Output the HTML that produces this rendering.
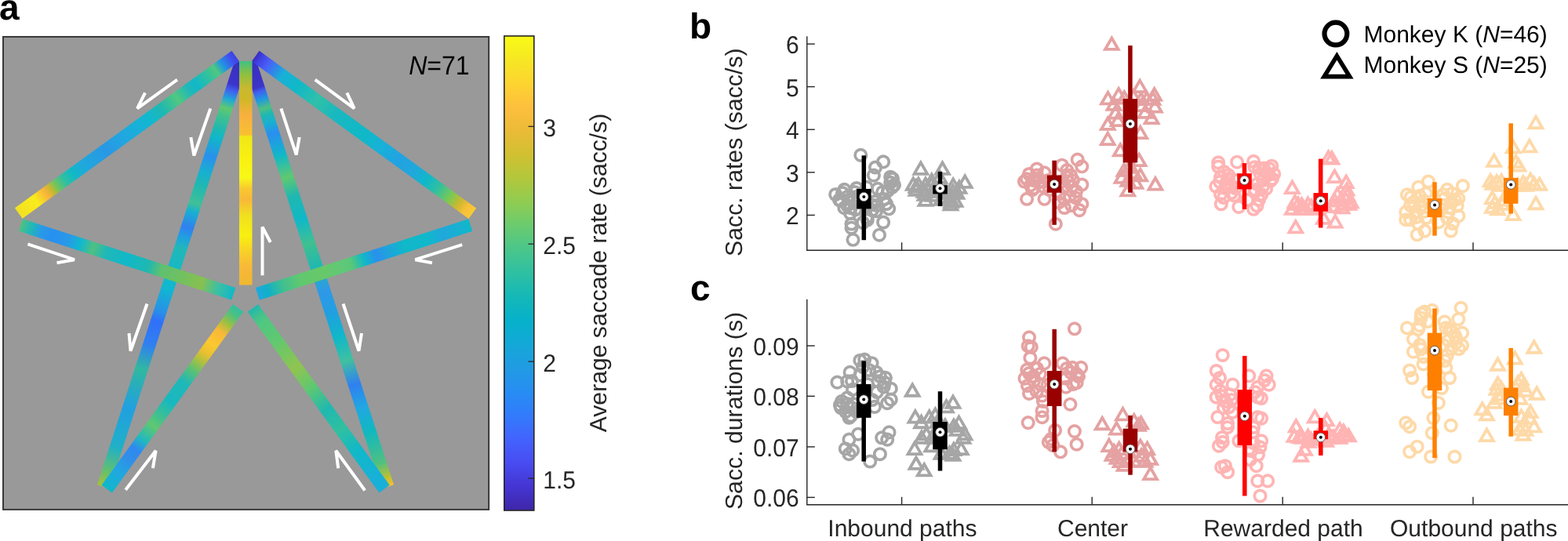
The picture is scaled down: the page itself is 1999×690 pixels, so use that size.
<!DOCTYPE html><html><head><meta charset="utf-8"><title>Figure</title><style>html,body{margin:0;padding:0;background:#fff;overflow:hidden}svg{display:block}</style></head><body><svg width="1999" height="690" viewBox="0 0 1999 690" font-family="'Liberation Sans', Arial, sans-serif" text-rendering="geometricPrecision"><defs><linearGradient id="gH" gradientUnits="userSpaceOnUse" x1="131.75" y1="620.85" x2="307" y2="80"><stop offset="0" stop-color="#a8c03c"/><stop offset="0.038" stop-color="#60c070"/><stop offset="0.094" stop-color="#20b0c8"/><stop offset="0.186" stop-color="#20a0e0"/><stop offset="0.278" stop-color="#30b8a0"/><stop offset="0.334" stop-color="#3080f0"/><stop offset="0.39" stop-color="#3070f8"/><stop offset="0.414" stop-color="#2890e8"/><stop offset="0.469" stop-color="#10b8d0"/><stop offset="0.562" stop-color="#20b8b8"/><stop offset="0.588" stop-color="#20a0e0"/><stop offset="0.612" stop-color="#3080f0"/><stop offset="0.649" stop-color="#18b0d0"/><stop offset="0.667" stop-color="#40c098"/><stop offset="0.71" stop-color="#20b8b0"/><stop offset="0.741" stop-color="#18b0d0"/><stop offset="0.778" stop-color="#2a90ec"/><stop offset="0.824" stop-color="#10b8c8"/><stop offset="0.844" stop-color="#20b8b0"/><stop offset="0.872" stop-color="#40c090"/><stop offset="0.893" stop-color="#60c870"/><stop offset="0.914" stop-color="#20a8d8"/><stop offset="0.934" stop-color="#4060f0"/><stop offset="0.949" stop-color="#3c34cc"/><stop offset="1" stop-color="#3a2ec0"/></linearGradient><linearGradient id="gI" gradientUnits="userSpaceOnUse" x1="494.25" y1="620.85" x2="319" y2="80"><stop offset="0" stop-color="#f8c030"/><stop offset="0.02" stop-color="#c0c030"/><stop offset="0.056" stop-color="#50c080"/><stop offset="0.13" stop-color="#10b8c0"/><stop offset="0.186" stop-color="#20a8e0"/><stop offset="0.241" stop-color="#3080f0"/><stop offset="0.297" stop-color="#40c0a0"/><stop offset="0.352" stop-color="#10b8c8"/><stop offset="0.408" stop-color="#20a0e0"/><stop offset="0.463" stop-color="#3098e8"/><stop offset="0.519" stop-color="#20b8b0"/><stop offset="0.574" stop-color="#40c090"/><stop offset="0.63" stop-color="#10b8c8"/><stop offset="0.686" stop-color="#20b8b0"/><stop offset="0.73" stop-color="#60c870"/><stop offset="0.782" stop-color="#10b8c8"/><stop offset="0.834" stop-color="#2a8ef0"/><stop offset="0.858" stop-color="#18b0d0"/><stop offset="0.879" stop-color="#20b8b0"/><stop offset="0.893" stop-color="#50c080"/><stop offset="0.914" stop-color="#2098e0"/><stop offset="0.932" stop-color="#4060f0"/><stop offset="0.942" stop-color="#3c34c8"/><stop offset="1" stop-color="#3a2ec0"/></linearGradient><linearGradient id="gA" gradientUnits="userSpaceOnUse" x1="23.75" y1="272" x2="300.25" y2="71.45"><stop offset="0" stop-color="#f2e022"/><stop offset="0.08" stop-color="#f8ec1c"/><stop offset="0.126" stop-color="#f9b43c"/><stop offset="0.15" stop-color="#c8b830"/><stop offset="0.175" stop-color="#70c460"/><stop offset="0.21" stop-color="#30c0a0"/><stop offset="0.254" stop-color="#10b8c8"/><stop offset="0.3" stop-color="#20a8dc"/><stop offset="0.4" stop-color="#2898e4"/><stop offset="0.493" stop-color="#20a8e0"/><stop offset="0.6" stop-color="#10b8d0"/><stop offset="0.663" stop-color="#20b8b0"/><stop offset="0.731" stop-color="#50c880"/><stop offset="0.785" stop-color="#20b8b8"/><stop offset="0.818" stop-color="#10b8c8"/><stop offset="0.87" stop-color="#30c0a0"/><stop offset="0.91" stop-color="#50c880"/><stop offset="0.94" stop-color="#2098e0"/><stop offset="0.98" stop-color="#4050f0"/><stop offset="1" stop-color="#4040e0"/></linearGradient><linearGradient id="gB" gradientUnits="userSpaceOnUse" x1="325.75" y1="71.45" x2="602.35" y2="272.25"><stop offset="0" stop-color="#3a2cc0"/><stop offset="0.02" stop-color="#4040e0"/><stop offset="0.055" stop-color="#4860f8"/><stop offset="0.123" stop-color="#18b0d8"/><stop offset="0.193" stop-color="#10b8c8"/><stop offset="0.284" stop-color="#30c0a8"/><stop offset="0.37" stop-color="#18b8c0"/><stop offset="0.505" stop-color="#10b8c8"/><stop offset="0.58" stop-color="#18b0d8"/><stop offset="0.66" stop-color="#22a2e2"/><stop offset="0.73" stop-color="#20a8dc"/><stop offset="0.79" stop-color="#10b8c8"/><stop offset="0.84" stop-color="#30c0a0"/><stop offset="0.9" stop-color="#80c850"/><stop offset="0.94" stop-color="#d0b830"/><stop offset="0.97" stop-color="#f8c038"/><stop offset="1" stop-color="#f8c838"/></linearGradient><linearGradient id="gE" gradientUnits="userSpaceOnUse" x1="313.25" y1="78" x2="313.25" y2="363.5"><stop offset="0" stop-color="#40c080"/><stop offset="0.06" stop-color="#90c040"/><stop offset="0.12" stop-color="#c8b830"/><stop offset="0.17" stop-color="#d0b828"/><stop offset="0.24" stop-color="#f8b040"/><stop offset="0.33" stop-color="#f8c030"/><stop offset="0.335" stop-color="#f0e818"/><stop offset="0.43" stop-color="#f8f010"/><stop offset="0.52" stop-color="#f8f818"/><stop offset="0.57" stop-color="#f8c830"/><stop offset="0.62" stop-color="#f8b838"/><stop offset="0.69" stop-color="#f0e020"/><stop offset="0.78" stop-color="#f8f010"/><stop offset="0.85" stop-color="#f8d028"/><stop offset="0.92" stop-color="#f8b838"/><stop offset="1" stop-color="#f0b830"/></linearGradient><linearGradient id="gC" gradientUnits="userSpaceOnUse" x1="26.3" y1="287" x2="297.75" y2="374.75"><stop offset="0" stop-color="#50c080"/><stop offset="0.05" stop-color="#20b8b8"/><stop offset="0.1" stop-color="#2898e8"/><stop offset="0.15" stop-color="#2890f0"/><stop offset="0.22" stop-color="#2898e8"/><stop offset="0.28" stop-color="#10b8d0"/><stop offset="0.34" stop-color="#50c080"/><stop offset="0.4" stop-color="#20b8b8"/><stop offset="0.5" stop-color="#10b8c8"/><stop offset="0.6" stop-color="#20b8b0"/><stop offset="0.66" stop-color="#60c070"/><stop offset="0.75" stop-color="#70c060"/><stop offset="0.85" stop-color="#88c050"/><stop offset="0.92" stop-color="#40c0a0"/><stop offset="1" stop-color="#10b8c8"/></linearGradient><linearGradient id="gD" gradientUnits="userSpaceOnUse" x1="328.2" y1="374.95" x2="599.8" y2="287"><stop offset="0" stop-color="#20a8e0"/><stop offset="0.05" stop-color="#10b0c8"/><stop offset="0.12" stop-color="#40c090"/><stop offset="0.2" stop-color="#60c870"/><stop offset="0.3" stop-color="#68c868"/><stop offset="0.4" stop-color="#60c878"/><stop offset="0.44" stop-color="#58c878"/><stop offset="0.5" stop-color="#10b8c8"/><stop offset="0.557" stop-color="#2a90ec"/><stop offset="0.6" stop-color="#20a0e0"/><stop offset="0.69" stop-color="#10b8c8"/><stop offset="0.8" stop-color="#10b8cc"/><stop offset="0.87" stop-color="#20a8dc"/><stop offset="1" stop-color="#10b8c8"/></linearGradient><linearGradient id="gF" gradientUnits="userSpaceOnUse" x1="303.6" y1="392.8" x2="136.25" y2="623.55"><stop offset="0" stop-color="#30c0a0"/><stop offset="0.04" stop-color="#50c080"/><stop offset="0.087" stop-color="#a0c040"/><stop offset="0.132" stop-color="#f8b838"/><stop offset="0.2" stop-color="#fbc830"/><stop offset="0.25" stop-color="#e8c030"/><stop offset="0.29" stop-color="#b0c040"/><stop offset="0.34" stop-color="#60c070"/><stop offset="0.41" stop-color="#20b8b8"/><stop offset="0.52" stop-color="#18b8c0"/><stop offset="0.6" stop-color="#40c090"/><stop offset="0.65" stop-color="#60c870"/><stop offset="0.73" stop-color="#20b8c0"/><stop offset="0.78" stop-color="#3088f0"/><stop offset="0.84" stop-color="#3090e8"/><stop offset="0.91" stop-color="#20a8e0"/><stop offset="1" stop-color="#10b8c8"/></linearGradient><linearGradient id="gG" gradientUnits="userSpaceOnUse" x1="322.4" y1="392.8" x2="490.05" y2="623.55"><stop offset="0" stop-color="#20b8b0"/><stop offset="0.04" stop-color="#40c090"/><stop offset="0.078" stop-color="#50c880"/><stop offset="0.18" stop-color="#60c870"/><stop offset="0.33" stop-color="#90c450"/><stop offset="0.44" stop-color="#60c870"/><stop offset="0.56" stop-color="#20b8b0"/><stop offset="0.67" stop-color="#30c0a0"/><stop offset="0.79" stop-color="#10b8c8"/><stop offset="0.94" stop-color="#18b0d8"/><stop offset="1" stop-color="#18b0d8"/></linearGradient><linearGradient id="cbar" x1="0" y1="0" x2="0" y2="1"><stop offset="0.000" stop-color="#f9fb15"/><stop offset="0.050" stop-color="#f6e724"/><stop offset="0.100" stop-color="#fdd430"/><stop offset="0.150" stop-color="#febf3d"/><stop offset="0.200" stop-color="#eabb37"/><stop offset="0.250" stop-color="#d1c031"/><stop offset="0.300" stop-color="#b2c73c"/><stop offset="0.350" stop-color="#90cc52"/><stop offset="0.400" stop-color="#6acb6f"/><stop offset="0.450" stop-color="#4ac68b"/><stop offset="0.500" stop-color="#2ec0a3"/><stop offset="0.550" stop-color="#14b8b8"/><stop offset="0.600" stop-color="#06b1ca"/><stop offset="0.650" stop-color="#14a8d8"/><stop offset="0.700" stop-color="#219be3"/><stop offset="0.750" stop-color="#278df3"/><stop offset="0.800" stop-color="#327bfc"/><stop offset="0.850" stop-color="#4363fd"/><stop offset="0.900" stop-color="#484cf1"/><stop offset="0.950" stop-color="#4535d2"/><stop offset="1.000" stop-color="#3e26a8"/></linearGradient></defs><rect width="1999" height="690" fill="#fff"/><rect x="4" y="46.9" width="619.2" height="603" fill="#999999" stroke="#333333" stroke-width="1.9"/><polygon points="139.60,623.39 314.85,82.54 299.15,77.46 123.90,618.31" fill="url(#gH)"/><polygon points="502.10,618.31 326.85,77.46 311.15,82.54 486.40,623.39" fill="url(#gI)"/><polygon points="28.59,278.68 305.09,78.13 295.41,64.77 18.91,265.32" fill="url(#gA)"/><polygon points="320.90,78.13 597.50,278.93 607.20,265.57 330.60,64.77" fill="url(#gB)"/><polygon points="305.00,78.00 305.00,363.50 321.50,363.50 321.50,78.00" fill="url(#gE)"/><polygon points="23.76,294.85 295.21,382.60 300.29,366.90 28.84,279.15" fill="url(#gC)"/><polygon points="330.74,382.80 602.34,294.85 597.26,279.15 325.66,367.10" fill="url(#gD)"/><polygon points="296.92,387.96 129.57,618.71 142.93,628.39 310.28,397.64" fill="url(#gF)"/><polygon points="315.73,397.65 483.38,628.40 496.72,618.70 329.07,387.95" fill="url(#gG)"/><polyline points="226,101.7 175,138.3 185,118.3" fill="none" stroke="#ffffff" stroke-width="4" stroke-linejoin="bevel"/><polyline points="268.3,138.3 247.3,198.3 243.3,175" fill="none" stroke="#ffffff" stroke-width="4" stroke-linejoin="bevel"/><polyline points="401.7,101.7 451.7,138.3 442.3,118.3" fill="none" stroke="#ffffff" stroke-width="4" stroke-linejoin="bevel"/><polyline points="358.3,138.3 377.7,197.3 381.7,175" fill="none" stroke="#ffffff" stroke-width="4" stroke-linejoin="bevel"/><polyline points="334.5,351.3 334.5,289.5 344.8,309" fill="none" stroke="#ffffff" stroke-width="4" stroke-linejoin="bevel"/><polyline points="589.2,312.1 529.4,331.2 550.9,335.2" fill="none" stroke="#ffffff" stroke-width="4" stroke-linejoin="bevel"/><polyline points="35.4,311.3 94.9,331.2 72.5,335.2" fill="none" stroke="#ffffff" stroke-width="4" stroke-linejoin="bevel"/><polyline points="187.5,387.5 166.5,447.5 164.5,425" fill="none" stroke="#ffffff" stroke-width="4" stroke-linejoin="bevel"/><polyline points="437.5,387.5 457.5,447.5 461,425" fill="none" stroke="#ffffff" stroke-width="4" stroke-linejoin="bevel"/><polyline points="160.1,624.8 198.6,574.8 194.9,597.2" fill="none" stroke="#ffffff" stroke-width="4" stroke-linejoin="bevel"/><polyline points="465.2,625.5 428.3,574.8 431.2,597.2" fill="none" stroke="#ffffff" stroke-width="4" stroke-linejoin="bevel"/><text transform="translate(521.2,94.6) scale(1,1.06)" font-size="32" fill="#000"><tspan font-style="italic">N</tspan>=71</text><rect x="642.8" y="45.9" width="38" height="605.1" fill="url(#cbar)" stroke="#262626" stroke-width="1.6"/><line x1="673.5" y1="161.3" x2="680.8" y2="161.3" stroke="#262626" stroke-width="1.3"/><text transform="translate(692.3,173.90) scale(1,1.05)" font-size="30" fill="#262626">3</text><line x1="673.5" y1="311.2" x2="680.8" y2="311.2" stroke="#262626" stroke-width="1.3"/><text transform="translate(692.3,323.80) scale(1,1.05)" font-size="30" fill="#262626">2.5</text><line x1="673.5" y1="461.1" x2="680.8" y2="461.1" stroke="#262626" stroke-width="1.3"/><text transform="translate(692.3,473.70) scale(1,1.05)" font-size="30" fill="#262626">2</text><line x1="673.5" y1="610.1" x2="680.8" y2="610.1" stroke="#262626" stroke-width="1.3"/><text transform="translate(692.3,622.70) scale(1,1.05)" font-size="30" fill="#262626">1.5</text><text transform="translate(772.8,348) rotate(-90)" text-anchor="middle" font-size="30.15" fill="#262626">Average saccade rate (sacc/s)</text><text x="-1" y="24.5" font-size="46" font-weight="bold" fill="#000">a</text><text x="879" y="49.4" font-size="46" font-weight="bold" fill="#000">b</text><text x="880" y="383.2" font-size="46" font-weight="bold" fill="#000">c</text><line x1="1028.8" y1="46.2" x2="1028.8" y2="319.2" stroke="#262626" stroke-width="1.4"/><line x1="1028.1" y1="319.2" x2="1999" y2="319.2" stroke="#262626" stroke-width="1.4"/><line x1="1028.8" y1="274.4" x2="1038.8" y2="274.4" stroke="#262626" stroke-width="1.4"/><text transform="translate(1018.60,286.40) scale(1,1.05)" text-anchor="end" font-size="30" fill="#262626">2</text><line x1="1028.8" y1="219.8" x2="1038.8" y2="219.8" stroke="#262626" stroke-width="1.4"/><text transform="translate(1018.60,231.80) scale(1,1.05)" text-anchor="end" font-size="30" fill="#262626">3</text><line x1="1028.8" y1="165.2" x2="1038.8" y2="165.2" stroke="#262626" stroke-width="1.4"/><text transform="translate(1018.60,177.20) scale(1,1.05)" text-anchor="end" font-size="30" fill="#262626">4</text><line x1="1028.8" y1="110.6" x2="1038.8" y2="110.6" stroke="#262626" stroke-width="1.4"/><text transform="translate(1018.60,122.60) scale(1,1.05)" text-anchor="end" font-size="30" fill="#262626">5</text><line x1="1028.8" y1="56.1" x2="1038.8" y2="56.1" stroke="#262626" stroke-width="1.4"/><text transform="translate(1018.60,68.10) scale(1,1.05)" text-anchor="end" font-size="30" fill="#262626">6</text><line x1="1149.6" y1="319.2" x2="1149.6" y2="309.2" stroke="#262626" stroke-width="1.4"/><line x1="1392.2" y1="319.2" x2="1392.2" y2="309.2" stroke="#262626" stroke-width="1.4"/><line x1="1635.2" y1="319.2" x2="1635.2" y2="309.2" stroke="#262626" stroke-width="1.4"/><line x1="1878" y1="319.2" x2="1878" y2="309.2" stroke="#262626" stroke-width="1.4"/><text transform="translate(946.3,194.2) rotate(-90)" text-anchor="middle" font-size="30.25" fill="#262626">Sacc. rates (sacc/s)</text><line x1="1028.8" y1="381.7" x2="1028.8" y2="643.8" stroke="#262626" stroke-width="1.4"/><line x1="1028.1" y1="643.8" x2="1999" y2="643.8" stroke="#262626" stroke-width="1.4"/><line x1="1028.8" y1="634.4" x2="1038.8" y2="634.4" stroke="#262626" stroke-width="1.4"/><text transform="translate(1018.60,646.40) scale(1,1.05)" text-anchor="end" font-size="30" fill="#262626">0.06</text><line x1="1028.8" y1="569.9" x2="1038.8" y2="569.9" stroke="#262626" stroke-width="1.4"/><text transform="translate(1018.60,581.90) scale(1,1.05)" text-anchor="end" font-size="30" fill="#262626">0.07</text><line x1="1028.8" y1="505.3" x2="1038.8" y2="505.3" stroke="#262626" stroke-width="1.4"/><text transform="translate(1018.60,517.30) scale(1,1.05)" text-anchor="end" font-size="30" fill="#262626">0.08</text><line x1="1028.8" y1="441.0" x2="1038.8" y2="441.0" stroke="#262626" stroke-width="1.4"/><text transform="translate(1018.60,453.00) scale(1,1.05)" text-anchor="end" font-size="30" fill="#262626">0.09</text><line x1="1149.6" y1="643.8" x2="1149.6" y2="633.8" stroke="#262626" stroke-width="1.4"/><line x1="1392.2" y1="643.8" x2="1392.2" y2="633.8" stroke="#262626" stroke-width="1.4"/><line x1="1635.2" y1="643.8" x2="1635.2" y2="633.8" stroke="#262626" stroke-width="1.4"/><line x1="1878" y1="643.8" x2="1878" y2="633.8" stroke="#262626" stroke-width="1.4"/><text transform="translate(946.3,524.0) rotate(-90)" text-anchor="middle" font-size="30.25" fill="#262626">Sacc. durations (s)</text><text x="1150.4" y="684.3" text-anchor="middle" font-size="30" fill="#262626">Inbound paths</text><text x="1393.0" y="684.3" text-anchor="middle" font-size="30" fill="#262626">Center</text><text x="1636.0" y="684.3" text-anchor="middle" font-size="30" fill="#262626">Rewarded path</text><text x="1878.8" y="684.3" text-anchor="middle" font-size="30" fill="#262626">Outbound paths</text><circle cx="1702.9" cy="43.05" r="14.4" fill="none" stroke="#000" stroke-width="6.2"/><polygon points="1704.4,71.4 1720.6,97.6 1688.2,97.6" fill="none" stroke="#000" stroke-width="5.6" stroke-linejoin="miter"/><text x="1738.5" y="53.9" font-size="30" fill="#000">Monkey K (<tspan font-style="italic">N</tspan>=46)</text><text x="1738.5" y="92.9" font-size="30" fill="#000">Monkey S (<tspan font-style="italic">N</tspan>=25)</text><g fill="none" stroke="#a6a6a6" stroke-width="3.7"><circle cx="1097.3" cy="197.9" r="7.2"/><circle cx="1126.1" cy="206.4" r="7.2"/><circle cx="1116" cy="213.5" r="7.2"/><circle cx="1113.9" cy="223.6" r="7.2"/><circle cx="1135.2" cy="225.7" r="7.2"/><circle cx="1135.2" cy="232.8" r="7.2"/><circle cx="1137.3" cy="238.9" r="7.2"/><circle cx="1065.2" cy="248" r="7.2"/><circle cx="1076.4" cy="241.9" r="7.2"/><circle cx="1089.6" cy="245" r="7.2"/><circle cx="1080.4" cy="251" r="7.2"/><circle cx="1104.8" cy="238.9" r="7.2"/><circle cx="1119" cy="240.9" r="7.2"/><circle cx="1125.1" cy="245" r="7.2"/><circle cx="1127.1" cy="254" r="7.2"/><circle cx="1076.4" cy="265.2" r="7.2"/><circle cx="1084.5" cy="265.2" r="7.2"/><circle cx="1090.6" cy="267.3" r="7.2"/><circle cx="1117" cy="269.3" r="7.2"/><circle cx="1133.2" cy="266.3" r="7.2"/><circle cx="1104.8" cy="277.4" r="7.2"/><circle cx="1105.8" cy="280.5" r="7.2"/><circle cx="1085.5" cy="285.5" r="7.2"/><circle cx="1085.5" cy="290.6" r="7.2"/><circle cx="1126.1" cy="283.5" r="7.2"/><circle cx="1087.5" cy="305.8" r="7.2"/><circle cx="1121" cy="299.7" r="7.2"/><circle cx="1115" cy="257.1" r="7.2"/><circle cx="1111" cy="261" r="7.2"/><circle cx="1070" cy="255" r="7.2"/><circle cx="1095" cy="258" r="7.2"/><circle cx="1130" cy="260" r="7.2"/><circle cx="1072" cy="256" r="7.2"/><circle cx="1080" cy="262" r="7.2"/><circle cx="1088" cy="256" r="7.2"/><circle cx="1094" cy="250" r="7.2"/><circle cx="1084" cy="272" r="7.2"/><circle cx="1074" cy="246" r="7.2"/><circle cx="1092" cy="240" r="7.2"/><circle cx="1138" cy="228" r="7.2"/><circle cx="1140" cy="236" r="7.2"/><circle cx="1132" cy="243" r="7.2"/><circle cx="1112" cy="268" r="7.2"/><circle cx="1118" cy="262" r="7.2"/><circle cx="1100" cy="284" r="7.2"/></g><g fill="none" stroke="#a6a6a6" stroke-width="3.8" stroke-linejoin="miter"><polygon points="1173.90,207.33 1182.27,221.84 1165.53,221.84"/><polygon points="1201.50,207.33 1209.87,221.84 1193.13,221.84"/><polygon points="1230.20,224.33 1238.57,238.84 1221.83,238.84"/><polygon points="1187.80,222.33 1196.17,236.84 1179.43,236.84"/><polygon points="1164.30,227.33 1172.67,241.84 1155.93,241.84"/><polygon points="1170.90,227.33 1179.27,241.84 1162.53,241.84"/><polygon points="1180.00,227.33 1188.37,241.84 1171.63,241.84"/><polygon points="1187.80,227.33 1196.17,241.84 1179.43,241.84"/><polygon points="1215.20,228.33 1223.57,242.84 1206.83,242.84"/><polygon points="1223.00,231.33 1231.37,245.84 1214.63,245.84"/><polygon points="1179.00,240.33 1187.37,254.84 1170.63,254.84"/><polygon points="1189.00,241.33 1197.37,255.84 1180.63,255.84"/><polygon points="1212.60,249.33 1220.97,263.83 1204.23,263.83"/><polygon points="1211.00,244.33 1219.37,258.83 1202.63,258.83"/><polygon points="1168.00,230.33 1176.37,244.84 1159.63,244.84"/><polygon points="1198.00,218.33 1206.37,232.84 1189.63,232.84"/><polygon points="1205.00,234.33 1213.37,248.84 1196.63,248.84"/><polygon points="1220.00,238.33 1228.37,252.84 1211.63,252.84"/><polygon points="1168.00,234.33 1176.37,248.84 1159.63,248.84"/><polygon points="1178.00,236.33 1186.37,250.84 1169.63,250.84"/><polygon points="1188.00,236.33 1196.37,250.84 1179.63,250.84"/><polygon points="1196.00,236.33 1204.37,250.84 1187.63,250.84"/><polygon points="1205.00,238.33 1213.37,252.84 1196.63,252.84"/><polygon points="1215.00,236.33 1223.37,250.84 1206.63,250.84"/><polygon points="1180.00,247.33 1188.37,261.83 1171.63,261.83"/><polygon points="1200.00,246.33 1208.37,260.83 1191.63,260.83"/><polygon points="1218.00,248.33 1226.37,262.83 1209.63,262.83"/><polygon points="1192.00,230.33 1200.37,244.84 1183.63,244.84"/><polygon points="1212.00,252.83 1220.37,267.33 1203.63,267.33"/></g><g fill="none" stroke="#e5a2a2" stroke-width="3.7"><circle cx="1373.7" cy="203.6" r="7.2"/><circle cx="1379.3" cy="212.3" r="7.2"/><circle cx="1353.8" cy="210.7" r="7.2"/><circle cx="1360.2" cy="217.1" r="7.2"/><circle cx="1365" cy="223.5" r="7.2"/><circle cx="1321.9" cy="215.5" r="7.2"/><circle cx="1331.5" cy="220.3" r="7.2"/><circle cx="1309.1" cy="228.3" r="7.2"/><circle cx="1317.1" cy="229.9" r="7.2"/><circle cx="1325.1" cy="231.5" r="7.2"/><circle cx="1313.9" cy="236.3" r="7.2"/><circle cx="1329.9" cy="237.8" r="7.2"/><circle cx="1379.3" cy="235.5" r="7.2"/><circle cx="1361.8" cy="231.5" r="7.2"/><circle cx="1366.6" cy="237.8" r="7.2"/><circle cx="1357" cy="239.4" r="7.2"/><circle cx="1309.1" cy="253.8" r="7.2"/><circle cx="1331.5" cy="253.8" r="7.2"/><circle cx="1357" cy="253.8" r="7.2"/><circle cx="1371.3" cy="252.2" r="7.2"/><circle cx="1379.3" cy="260.2" r="7.2"/><circle cx="1357" cy="265" r="7.2"/><circle cx="1376.1" cy="268.1" r="7.2"/><circle cx="1345.8" cy="285.7" r="7.2"/><circle cx="1321.9" cy="223.5" r="7.2"/><circle cx="1306" cy="231.5" r="7.2"/><circle cx="1350.6" cy="247.4" r="7.2"/><circle cx="1338" cy="242" r="7.2"/><circle cx="1318" cy="240" r="7.2"/><circle cx="1312" cy="222" r="7.2"/><circle cx="1322" cy="228" r="7.2"/><circle cx="1330" cy="232" r="7.2"/><circle cx="1316" cy="242" r="7.2"/><circle cx="1336" cy="230" r="7.2"/><circle cx="1360" cy="226" r="7.2"/><circle cx="1368" cy="230" r="7.2"/><circle cx="1372" cy="244" r="7.2"/><circle cx="1364" cy="250" r="7.2"/><circle cx="1352" cy="232" r="7.2"/><circle cx="1366" cy="262" r="7.2"/><circle cx="1350" cy="258" r="7.2"/></g><g fill="none" stroke="#e5a2a2" stroke-width="3.8" stroke-linejoin="miter"><polygon points="1417.30,48.43 1425.67,62.94 1408.93,62.94"/><polygon points="1453.20,102.63 1461.57,117.13 1444.83,117.13"/><polygon points="1426.10,113.03 1434.47,127.53 1417.73,127.53"/><polygon points="1412.50,117.83 1420.87,132.34 1404.13,132.34"/><polygon points="1433.30,117.03 1441.67,131.53 1424.93,131.53"/><polygon points="1471.60,113.03 1479.97,127.53 1463.23,127.53"/><polygon points="1454.80,118.63 1463.17,133.14 1446.43,133.14"/><polygon points="1472.40,128.13 1480.77,142.64 1464.03,142.64"/><polygon points="1422.10,136.13 1430.47,150.64 1413.73,150.64"/><polygon points="1455.60,126.53 1463.97,141.03 1447.23,141.03"/><polygon points="1412.30,150.43 1420.67,164.94 1403.93,164.94"/><polygon points="1468.10,142.53 1476.47,157.03 1459.73,157.03"/><polygon points="1453.80,161.63 1462.17,176.14 1445.43,176.14"/><polygon points="1412.30,169.63 1420.67,184.14 1403.93,184.14"/><polygon points="1425.10,145.63 1433.47,160.14 1416.73,160.14"/><polygon points="1428.30,183.93 1436.67,198.44 1419.93,198.44"/><polygon points="1452.20,196.63 1460.57,211.14 1443.83,211.14"/><polygon points="1433.00,209.43 1441.37,223.94 1424.63,223.94"/><polygon points="1445.80,212.63 1454.17,227.14 1437.43,227.14"/><polygon points="1453.80,215.83 1462.17,230.34 1445.43,230.34"/><polygon points="1437.80,222.23 1446.17,236.74 1429.43,236.74"/><polygon points="1472.90,227.03 1481.27,241.53 1464.53,241.53"/><polygon points="1437.80,234.93 1446.17,249.44 1429.43,249.44"/><polygon points="1462.00,118.33 1470.37,132.84 1453.63,132.84"/><polygon points="1445.00,115.33 1453.37,129.84 1436.63,129.84"/><polygon points="1420.00,125.33 1428.37,139.84 1411.63,139.84"/><polygon points="1460.00,135.33 1468.37,149.84 1451.63,149.84"/><polygon points="1470.00,118.33 1478.37,132.84 1461.63,132.84"/><polygon points="1440.00,205.33 1448.37,219.84 1431.63,219.84"/><polygon points="1430.00,218.33 1438.37,232.84 1421.63,232.84"/><polygon points="1448.00,225.33 1456.37,239.84 1439.63,239.84"/></g><g fill="none" stroke="#ffb4b4" stroke-width="3.7"><circle cx="1553.2" cy="207.4" r="7.2"/><circle cx="1553.2" cy="212.5" r="7.2"/><circle cx="1577.1" cy="206.7" r="7.2"/><circle cx="1598.1" cy="205.9" r="7.2"/><circle cx="1599.6" cy="213.2" r="7.2"/><circle cx="1611.2" cy="214.6" r="7.2"/><circle cx="1621.3" cy="211.7" r="7.2"/><circle cx="1624.2" cy="221.9" r="7.2"/><circle cx="1617" cy="223.3" r="7.2"/><circle cx="1606.8" cy="221.9" r="7.2"/><circle cx="1556.1" cy="226.2" r="7.2"/><circle cx="1566.2" cy="223.3" r="7.2"/><circle cx="1563.3" cy="233.5" r="7.2"/><circle cx="1550.3" cy="237.8" r="7.2"/><circle cx="1556.1" cy="248" r="7.2"/><circle cx="1573.5" cy="249.4" r="7.2"/><circle cx="1570.6" cy="237.8" r="7.2"/><circle cx="1602.5" cy="234.9" r="7.2"/><circle cx="1614.1" cy="240.7" r="7.2"/><circle cx="1608.3" cy="248" r="7.2"/><circle cx="1599.6" cy="245.1" r="7.2"/><circle cx="1556.8" cy="260.3" r="7.2"/><circle cx="1579.3" cy="263.9" r="7.2"/><circle cx="1598.1" cy="266.8" r="7.2"/><circle cx="1602.5" cy="262.5" r="7.2"/><circle cx="1560.4" cy="219" r="7.2"/><circle cx="1619.9" cy="230.6" r="7.2"/><circle cx="1610" cy="230" r="7.2"/><circle cx="1575" cy="230" r="7.2"/><circle cx="1605" cy="215" r="7.2"/><circle cx="1615" cy="222" r="7.2"/><circle cx="1622" cy="228" r="7.2"/><circle cx="1610" cy="238" r="7.2"/><circle cx="1600" cy="242" r="7.2"/><circle cx="1618" cy="215" r="7.2"/><circle cx="1555" cy="232" r="7.2"/><circle cx="1562" cy="240" r="7.2"/><circle cx="1570" cy="246" r="7.2"/><circle cx="1560" cy="252" r="7.2"/><circle cx="1566" cy="228" r="7.2"/><circle cx="1575" cy="240" r="7.2"/><circle cx="1605" cy="255" r="7.2"/><circle cx="1590" cy="255" r="7.2"/></g><g fill="none" stroke="#ffb4b4" stroke-width="3.8" stroke-linejoin="miter"><polygon points="1693.50,193.23 1701.87,207.74 1685.13,207.74"/><polygon points="1697.90,194.03 1706.27,208.53 1689.53,208.53"/><polygon points="1701.40,217.53 1709.77,232.03 1693.03,232.03"/><polygon points="1716.20,224.53 1724.57,239.03 1707.83,239.03"/><polygon points="1647.40,231.53 1655.77,246.03 1639.03,246.03"/><polygon points="1717.00,234.13 1725.37,248.64 1708.63,248.64"/><polygon points="1717.90,241.03 1726.27,255.53 1709.53,255.53"/><polygon points="1701.40,248.03 1709.77,262.53 1693.03,262.53"/><polygon points="1710.00,246.33 1718.37,260.83 1701.63,260.83"/><polygon points="1650.90,249.73 1659.27,264.23 1642.53,264.23"/><polygon points="1659.60,253.23 1667.97,267.73 1651.23,267.73"/><polygon points="1667.40,252.43 1675.77,266.94 1659.03,266.94"/><polygon points="1647.40,258.43 1655.77,272.94 1639.03,272.94"/><polygon points="1722.30,249.73 1730.67,264.23 1713.93,264.23"/><polygon points="1711.00,256.73 1719.37,271.23 1702.63,271.23"/><polygon points="1702.20,275.03 1710.57,289.53 1693.83,289.53"/><polygon points="1651.80,281.93 1660.17,296.44 1643.43,296.44"/><polygon points="1657.90,258.43 1666.27,272.94 1649.53,272.94"/><polygon points="1687.40,270.33 1695.77,284.83 1679.03,284.83"/><polygon points="1705.00,240.33 1713.37,254.84 1696.63,254.84"/><polygon points="1715.00,245.33 1723.37,259.83 1706.63,259.83"/><polygon points="1712.00,252.33 1720.37,266.83 1703.63,266.83"/><polygon points="1700.00,255.33 1708.37,269.83 1691.63,269.83"/><polygon points="1720.00,252.33 1728.37,266.83 1711.63,266.83"/><polygon points="1655.00,252.33 1663.37,266.83 1646.63,266.83"/><polygon points="1665.00,258.33 1673.37,272.83 1656.63,272.83"/><polygon points="1672.00,255.33 1680.37,269.83 1663.63,269.83"/><polygon points="1690.00,255.33 1698.37,269.83 1681.63,269.83"/><polygon points="1680.00,258.33 1688.37,272.83 1671.63,272.83"/></g><g fill="none" stroke="#fed9a8" stroke-width="3.7"><circle cx="1821" cy="231.5" r="7.2"/><circle cx="1808.3" cy="238.7" r="7.2"/><circle cx="1864.9" cy="237.1" r="7.2"/><circle cx="1793.9" cy="248.3" r="7.2"/><circle cx="1798.7" cy="251.5" r="7.2"/><circle cx="1809.9" cy="249.9" r="7.2"/><circle cx="1845" cy="241.9" r="7.2"/><circle cx="1851.3" cy="246.7" r="7.2"/><circle cx="1859.3" cy="253.1" r="7.2"/><circle cx="1792.3" cy="270.6" r="7.2"/><circle cx="1792.3" cy="280.2" r="7.2"/><circle cx="1805.1" cy="277" r="7.2"/><circle cx="1809.9" cy="264.2" r="7.2"/><circle cx="1846.6" cy="270.6" r="7.2"/><circle cx="1859.3" cy="275.4" r="7.2"/><circle cx="1857.7" cy="262.6" r="7.2"/><circle cx="1833.8" cy="283.4" r="7.2"/><circle cx="1816.3" cy="294.5" r="7.2"/><circle cx="1806.7" cy="299.3" r="7.2"/><circle cx="1849.7" cy="294.5" r="7.2"/><circle cx="1801.9" cy="257.8" r="7.2"/><circle cx="1817.8" cy="246.7" r="7.2"/><circle cx="1841.8" cy="253.1" r="7.2"/><circle cx="1815" cy="270" r="7.2"/><circle cx="1850" cy="258" r="7.2"/><circle cx="1798" cy="262" r="7.2"/><circle cx="1805" cy="270" r="7.2"/><circle cx="1812" cy="262" r="7.2"/><circle cx="1798" cy="280" r="7.2"/><circle cx="1808" cy="285" r="7.2"/><circle cx="1818" cy="278" r="7.2"/><circle cx="1840" cy="262" r="7.2"/><circle cx="1848" cy="265" r="7.2"/><circle cx="1855" cy="255" r="7.2"/><circle cx="1845" cy="278" r="7.2"/><circle cx="1852" cy="285" r="7.2"/><circle cx="1840" cy="248" r="7.2"/><circle cx="1815" cy="256" r="7.2"/></g><g fill="none" stroke="#fed9a8" stroke-width="3.8" stroke-linejoin="miter"><polygon points="1958.00,148.73 1966.37,163.24 1949.63,163.24"/><polygon points="1929.10,179.93 1937.47,194.44 1920.73,194.44"/><polygon points="1949.90,178.83 1958.27,193.34 1941.53,193.34"/><polygon points="1904.70,197.33 1913.07,211.84 1896.33,211.84"/><polygon points="1932.50,198.53 1940.87,213.03 1924.13,213.03"/><polygon points="1936.00,203.13 1944.37,217.64 1927.63,217.64"/><polygon points="1900.10,222.83 1908.47,237.34 1891.73,237.34"/><polygon points="1908.20,223.93 1916.57,238.44 1899.83,238.44"/><polygon points="1914.00,222.83 1922.37,237.34 1905.63,237.34"/><polygon points="1941.80,225.13 1950.17,239.64 1933.43,239.64"/><polygon points="1951.10,221.63 1959.47,236.14 1942.73,236.14"/><polygon points="1962.70,227.43 1971.07,241.94 1954.33,241.94"/><polygon points="1902.40,244.83 1910.77,259.33 1894.03,259.33"/><polygon points="1958.00,251.73 1966.37,266.23 1949.63,266.23"/><polygon points="1902.40,256.43 1910.77,270.94 1894.03,270.94"/><polygon points="1909.40,258.73 1917.77,273.23 1901.03,273.23"/><polygon points="1929.10,265.63 1937.47,280.13 1920.73,280.13"/><polygon points="1955.70,226.33 1964.07,240.84 1947.33,240.84"/><polygon points="1916.30,247.13 1924.67,261.63 1907.93,261.63"/><polygon points="1903.00,226.33 1911.37,240.84 1894.63,240.84"/><polygon points="1912.00,228.33 1920.37,242.84 1903.63,242.84"/><polygon points="1945.00,228.33 1953.37,242.84 1936.63,242.84"/><polygon points="1906.00,250.33 1914.37,264.83 1897.63,264.83"/><polygon points="1915.00,252.33 1923.37,266.83 1906.63,266.83"/><polygon points="1935.00,228.33 1943.37,242.84 1926.63,242.84"/></g><g fill="none" stroke="#a6a6a6" stroke-width="3.7"><circle cx="1096.4" cy="459.7" r="7.2"/><circle cx="1102.2" cy="458.6" r="7.2"/><circle cx="1111.5" cy="463.2" r="7.2"/><circle cx="1083.6" cy="474.8" r="7.2"/><circle cx="1096.4" cy="478.3" r="7.2"/><circle cx="1117.3" cy="474.8" r="7.2"/><circle cx="1128.9" cy="481.8" r="7.2"/><circle cx="1067.4" cy="487.6" r="7.2"/><circle cx="1080.2" cy="486.4" r="7.2"/><circle cx="1119.6" cy="486.4" r="7.2"/><circle cx="1126.6" cy="493.4" r="7.2"/><circle cx="1135.8" cy="495.7" r="7.2"/><circle cx="1087.1" cy="496.8" r="7.2"/><circle cx="1073.2" cy="511.9" r="7.2"/><circle cx="1080.2" cy="507.3" r="7.2"/><circle cx="1135.8" cy="509.6" r="7.2"/><circle cx="1131.2" cy="514.2" r="7.2"/><circle cx="1115" cy="518.9" r="7.2"/><circle cx="1084.8" cy="530.5" r="7.2"/><circle cx="1082.5" cy="532.8" r="7.2"/><circle cx="1094.1" cy="553.7" r="7.2"/><circle cx="1082.5" cy="560.6" r="7.2"/><circle cx="1133.5" cy="551.4" r="7.2"/><circle cx="1124.2" cy="558.3" r="7.2"/><circle cx="1131.2" cy="560.6" r="7.2"/><circle cx="1077.8" cy="572.3" r="7.2"/><circle cx="1087.1" cy="574.6" r="7.2"/><circle cx="1082.5" cy="579.2" r="7.2"/><circle cx="1121.9" cy="579.2" r="7.2"/><circle cx="1109.2" cy="588.5" r="7.2"/><circle cx="1070.9" cy="516.6" r="7.2"/><circle cx="1088" cy="515" r="7.2"/><circle cx="1118" cy="500" r="7.2"/><circle cx="1072" cy="520" r="7.2"/><circle cx="1078" cy="525" r="7.2"/><circle cx="1086" cy="520" r="7.2"/><circle cx="1080" cy="515" r="7.2"/><circle cx="1092" cy="525" r="7.2"/><circle cx="1100" cy="468" r="7.2"/><circle cx="1108" cy="472" r="7.2"/><circle cx="1122" cy="480" r="7.2"/><circle cx="1128" cy="488" r="7.2"/><circle cx="1106" cy="490" r="7.2"/><circle cx="1086" cy="486" r="7.2"/><circle cx="1112" cy="510" r="7.2"/></g><g fill="none" stroke="#a6a6a6" stroke-width="3.8" stroke-linejoin="miter"><polygon points="1163.20,490.23 1171.57,504.73 1154.83,504.73"/><polygon points="1215.00,505.33 1223.37,519.84 1206.63,519.84"/><polygon points="1206.50,510.93 1214.87,525.44 1198.13,525.44"/><polygon points="1166.90,524.13 1175.27,538.63 1158.53,538.63"/><polygon points="1174.50,530.73 1182.87,545.24 1166.13,545.24"/><polygon points="1184.80,524.13 1193.17,538.63 1176.43,538.63"/><polygon points="1192.40,521.33 1200.77,535.84 1184.03,535.84"/><polygon points="1222.50,531.63 1230.87,546.13 1214.13,546.13"/><polygon points="1215.90,535.43 1224.27,549.94 1207.53,549.94"/><polygon points="1230.00,545.73 1238.37,560.24 1221.63,560.24"/><polygon points="1181.10,545.73 1189.47,560.24 1172.73,560.24"/><polygon points="1166.00,564.63 1174.37,579.13 1157.63,579.13"/><polygon points="1187.70,560.83 1196.07,575.34 1179.33,575.34"/><polygon points="1225.30,564.63 1233.67,579.13 1216.93,579.13"/><polygon points="1215.90,565.53 1224.27,580.04 1207.53,580.04"/><polygon points="1210.30,570.23 1218.67,584.74 1201.93,584.74"/><polygon points="1167.90,583.43 1176.27,597.94 1159.53,597.94"/><polygon points="1178.20,591.93 1186.57,606.44 1169.83,606.44"/><polygon points="1195.00,530.33 1203.37,544.84 1186.63,544.84"/><polygon points="1205.00,535.33 1213.37,549.84 1196.63,549.84"/><polygon points="1220.00,540.33 1228.37,554.84 1211.63,554.84"/><polygon points="1228.00,550.33 1236.37,564.84 1219.63,564.84"/><polygon points="1200.00,570.33 1208.37,584.84 1191.63,584.84"/><polygon points="1215.00,572.33 1223.37,586.84 1206.63,586.84"/><polygon points="1188.00,550.33 1196.37,564.84 1179.63,564.84"/><polygon points="1175.00,550.33 1183.37,564.84 1166.63,564.84"/></g><g fill="none" stroke="#e5a2a2" stroke-width="3.7"><circle cx="1369.9" cy="419.3" r="7.2"/><circle cx="1312" cy="430.3" r="7.2"/><circle cx="1310.7" cy="441.3" r="7.2"/><circle cx="1314.8" cy="442.7" r="7.2"/><circle cx="1313.4" cy="456.5" r="7.2"/><circle cx="1331.3" cy="463.4" r="7.2"/><circle cx="1354.7" cy="463.4" r="7.2"/><circle cx="1367.1" cy="468.9" r="7.2"/><circle cx="1378.2" cy="468.9" r="7.2"/><circle cx="1309.3" cy="471.6" r="7.2"/><circle cx="1306.5" cy="482.6" r="7.2"/><circle cx="1317.5" cy="479.9" r="7.2"/><circle cx="1325.8" cy="477.1" r="7.2"/><circle cx="1372.6" cy="477.1" r="7.2"/><circle cx="1358.9" cy="482.6" r="7.2"/><circle cx="1372.6" cy="488.2" r="7.2"/><circle cx="1358.9" cy="493.7" r="7.2"/><circle cx="1312" cy="501.9" r="7.2"/><circle cx="1321.7" cy="499.2" r="7.2"/><circle cx="1328.6" cy="504.7" r="7.2"/><circle cx="1364.4" cy="515.7" r="7.2"/><circle cx="1328.6" cy="524" r="7.2"/><circle cx="1328.6" cy="532.2" r="7.2"/><circle cx="1310.7" cy="539.1" r="7.2"/><circle cx="1345.1" cy="548.8" r="7.2"/><circle cx="1369.9" cy="550.1" r="7.2"/><circle cx="1336.8" cy="563.9" r="7.2"/><circle cx="1342.3" cy="568" r="7.2"/><circle cx="1352" cy="576.3" r="7.2"/><circle cx="1372.6" cy="566.7" r="7.2"/><circle cx="1335.5" cy="490.9" r="7.2"/><circle cx="1312" cy="476" r="7.2"/><circle cx="1318" cy="486" r="7.2"/><circle cx="1326" cy="490" r="7.2"/><circle cx="1310" cy="492" r="7.2"/><circle cx="1322" cy="470" r="7.2"/><circle cx="1365" cy="475" r="7.2"/><circle cx="1375" cy="480" r="7.2"/><circle cx="1368" cy="490" r="7.2"/><circle cx="1360" cy="470" r="7.2"/><circle cx="1330" cy="512" r="7.2"/><circle cx="1340" cy="560" r="7.2"/></g><g fill="none" stroke="#e5a2a2" stroke-width="3.8" stroke-linejoin="miter"><polygon points="1431.50,520.83 1439.87,535.34 1423.13,535.34"/><polygon points="1405.20,532.73 1413.57,547.24 1396.83,547.24"/><polygon points="1445.80,528.83 1454.17,543.34 1437.43,543.34"/><polygon points="1454.60,531.93 1462.97,546.44 1446.23,546.44"/><polygon points="1451.40,534.33 1459.77,548.84 1443.03,548.84"/><polygon points="1423.50,539.13 1431.87,553.63 1415.13,553.63"/><polygon points="1413.90,560.63 1422.27,575.13 1405.53,575.13"/><polygon points="1426.70,564.63 1435.07,579.13 1418.33,579.13"/><polygon points="1453.80,561.43 1462.17,575.94 1445.43,575.94"/><polygon points="1462.60,564.63 1470.97,579.13 1454.23,579.13"/><polygon points="1466.60,577.43 1474.97,591.94 1458.23,591.94"/><polygon points="1428.30,580.63 1436.67,595.13 1419.93,595.13"/><polygon points="1433.10,585.43 1441.47,599.94 1424.73,599.94"/><polygon points="1445.80,579.83 1454.17,594.34 1437.43,594.34"/><polygon points="1466.60,596.53 1474.97,611.04 1458.23,611.04"/><polygon points="1420.30,567.83 1428.67,582.34 1411.93,582.34"/><polygon points="1418.00,572.33 1426.37,586.84 1409.63,586.84"/><polygon points="1424.00,576.33 1432.37,590.84 1415.63,590.84"/><polygon points="1430.00,570.33 1438.37,584.84 1421.63,584.84"/><polygon points="1438.00,580.33 1446.37,594.84 1429.63,594.84"/><polygon points="1445.00,568.33 1453.37,582.84 1436.63,582.84"/><polygon points="1455.00,573.33 1463.37,587.84 1446.63,587.84"/><polygon points="1460.00,580.33 1468.37,594.84 1451.63,594.84"/></g><g fill="none" stroke="#ffb4b4" stroke-width="3.7"><circle cx="1558.7" cy="453" r="7.2"/><circle cx="1550.7" cy="473" r="7.2"/><circle cx="1550.7" cy="490.6" r="7.2"/><circle cx="1592.2" cy="479.4" r="7.2"/><circle cx="1614.5" cy="479.4" r="7.2"/><circle cx="1617.7" cy="490.6" r="7.2"/><circle cx="1571.5" cy="490.6" r="7.2"/><circle cx="1603.3" cy="493.8" r="7.2"/><circle cx="1555.5" cy="498.6" r="7.2"/><circle cx="1550.7" cy="506.5" r="7.2"/><circle cx="1568.3" cy="503.3" r="7.2"/><circle cx="1603.3" cy="506.5" r="7.2"/><circle cx="1566.7" cy="519.3" r="7.2"/><circle cx="1571.5" cy="525.7" r="7.2"/><circle cx="1552.3" cy="532" r="7.2"/><circle cx="1565.1" cy="540" r="7.2"/><circle cx="1603.3" cy="532" r="7.2"/><circle cx="1608.1" cy="533.6" r="7.2"/><circle cx="1597" cy="551.2" r="7.2"/><circle cx="1558.7" cy="563.9" r="7.2"/><circle cx="1553.9" cy="568.7" r="7.2"/><circle cx="1608.1" cy="562.3" r="7.2"/><circle cx="1606.5" cy="570.3" r="7.2"/><circle cx="1579.4" cy="562.3" r="7.2"/><circle cx="1595.4" cy="575.1" r="7.2"/><circle cx="1557.1" cy="595.8" r="7.2"/><circle cx="1565.1" cy="602.2" r="7.2"/><circle cx="1601.7" cy="594.2" r="7.2"/><circle cx="1603.3" cy="613.4" r="7.2"/><circle cx="1616.1" cy="613.4" r="7.2"/><circle cx="1606.5" cy="632.5" r="7.2"/><circle cx="1593.8" cy="586.3" r="7.2"/><circle cx="1561.9" cy="594.2" r="7.2"/><circle cx="1558" cy="505" r="7.2"/><circle cx="1562" cy="512" r="7.2"/><circle cx="1570" cy="510" r="7.2"/><circle cx="1560" cy="520" r="7.2"/><circle cx="1555" cy="482" r="7.2"/><circle cx="1600" cy="500" r="7.2"/><circle cx="1608" cy="508" r="7.2"/><circle cx="1612" cy="485" r="7.2"/><circle cx="1598" cy="565" r="7.2"/><circle cx="1604" cy="580" r="7.2"/><circle cx="1598" cy="545" r="7.2"/><circle cx="1558" cy="558" r="7.2"/><circle cx="1565" cy="545" r="7.2"/></g><g fill="none" stroke="#ffb4b4" stroke-width="3.8" stroke-linejoin="miter"><polygon points="1676.30,523.93 1684.67,538.44 1667.93,538.44"/><polygon points="1691.40,527.93 1699.77,542.44 1683.03,542.44"/><polygon points="1652.30,535.93 1660.67,550.44 1643.93,550.44"/><polygon points="1708.10,539.93 1716.47,554.44 1699.73,554.44"/><polygon points="1712.90,542.23 1721.27,556.74 1704.53,556.74"/><polygon points="1656.30,549.43 1664.67,563.94 1647.93,563.94"/><polygon points="1667.50,548.63 1675.87,563.13 1659.13,563.13"/><polygon points="1693.80,546.23 1702.17,560.74 1685.43,560.74"/><polygon points="1700.20,549.43 1708.57,563.94 1691.83,563.94"/><polygon points="1663.50,565.43 1671.87,579.94 1655.13,579.94"/><polygon points="1658.70,573.33 1667.07,587.84 1650.33,587.84"/><polygon points="1671.50,552.63 1679.87,567.13 1663.13,567.13"/><polygon points="1690.60,554.23 1698.97,568.74 1682.23,568.74"/><polygon points="1719.30,547.83 1727.67,562.34 1710.93,562.34"/><polygon points="1660.00,550.33 1668.37,564.84 1651.63,564.84"/><polygon points="1668.00,555.33 1676.37,569.84 1659.63,569.84"/><polygon points="1680.00,548.33 1688.37,562.84 1671.63,562.84"/><polygon points="1698.00,550.33 1706.37,564.84 1689.63,564.84"/><polygon points="1708.00,550.33 1716.37,564.84 1699.63,564.84"/><polygon points="1714.00,546.33 1722.37,560.84 1705.63,560.84"/><polygon points="1650.00,548.33 1658.37,562.84 1641.63,562.84"/><polygon points="1690.00,538.33 1698.37,552.84 1681.63,552.84"/></g><g fill="none" stroke="#fed9a8" stroke-width="3.7"><circle cx="1816.2" cy="397.5" r="7.2"/><circle cx="1825.8" cy="395.9" r="7.2"/><circle cx="1862.5" cy="392.8" r="7.2"/><circle cx="1859.3" cy="407.1" r="7.2"/><circle cx="1811.5" cy="405.5" r="7.2"/><circle cx="1793.9" cy="418.3" r="7.2"/><circle cx="1809.9" cy="415.1" r="7.2"/><circle cx="1841.7" cy="410.3" r="7.2"/><circle cx="1843.3" cy="418.3" r="7.2"/><circle cx="1851.3" cy="423" r="7.2"/><circle cx="1864.1" cy="424.6" r="7.2"/><circle cx="1801.9" cy="432.6" r="7.2"/><circle cx="1846.5" cy="434.2" r="7.2"/><circle cx="1856.1" cy="437.4" r="7.2"/><circle cx="1864.1" cy="440.6" r="7.2"/><circle cx="1801.9" cy="448.6" r="7.2"/><circle cx="1811.5" cy="445.4" r="7.2"/><circle cx="1844.9" cy="453.3" r="7.2"/><circle cx="1814.6" cy="464.5" r="7.2"/><circle cx="1843.3" cy="469.3" r="7.2"/><circle cx="1797.1" cy="472.5" r="7.2"/><circle cx="1800.3" cy="482" r="7.2"/><circle cx="1848.1" cy="482" r="7.2"/><circle cx="1821" cy="499.6" r="7.2"/><circle cx="1833.8" cy="513.9" r="7.2"/><circle cx="1827.4" cy="533.1" r="7.2"/><circle cx="1792.3" cy="539.4" r="7.2"/><circle cx="1797.1" cy="544.2" r="7.2"/><circle cx="1849.7" cy="542.6" r="7.2"/><circle cx="1825.8" cy="552.2" r="7.2"/><circle cx="1806.7" cy="569.7" r="7.2"/><circle cx="1797.1" cy="576.1" r="7.2"/><circle cx="1824.2" cy="582.5" r="7.2"/><circle cx="1854.5" cy="582.5" r="7.2"/><circle cx="1856.1" cy="431" r="7.2"/><circle cx="1812" cy="400" r="7.2"/><circle cx="1820" cy="410" r="7.2"/><circle cx="1808" cy="420" r="7.2"/><circle cx="1848" cy="420" r="7.2"/><circle cx="1855" cy="428" r="7.2"/><circle cx="1860" cy="445" r="7.2"/><circle cx="1850" cy="445" r="7.2"/><circle cx="1840" cy="440" r="7.2"/><circle cx="1815" cy="455" r="7.2"/><circle cx="1810" cy="440" r="7.2"/><circle cx="1842" cy="460" r="7.2"/><circle cx="1838" cy="495" r="7.2"/><circle cx="1828" cy="478" r="7.2"/></g><g fill="none" stroke="#fed9a8" stroke-width="3.8" stroke-linejoin="miter"><polygon points="1955.70,435.23 1964.07,449.73 1947.33,449.73"/><polygon points="1931.40,449.13 1939.77,463.63 1923.03,463.63"/><polygon points="1909.40,457.23 1917.77,471.73 1901.03,471.73"/><polygon points="1939.50,475.73 1947.87,490.23 1931.13,490.23"/><polygon points="1909.40,481.53 1917.77,496.03 1901.03,496.03"/><polygon points="1914.00,487.33 1922.37,501.83 1905.63,501.83"/><polygon points="1941.80,483.83 1950.17,498.33 1933.43,498.33"/><polygon points="1959.20,494.23 1967.57,508.73 1950.83,508.73"/><polygon points="1911.70,500.03 1920.07,514.53 1903.33,514.53"/><polygon points="1889.70,513.93 1898.07,528.44 1881.33,528.44"/><polygon points="1895.50,520.93 1903.87,535.44 1887.13,535.44"/><polygon points="1951.10,517.43 1959.47,531.94 1942.73,531.94"/><polygon points="1939.50,523.23 1947.87,537.74 1931.13,537.74"/><polygon points="1941.80,534.83 1950.17,549.34 1933.43,549.34"/><polygon points="1955.70,535.93 1964.07,550.44 1947.33,550.44"/><polygon points="1895.50,547.53 1903.87,562.04 1887.13,562.04"/><polygon points="1941.80,546.43 1950.17,560.94 1933.43,560.94"/><polygon points="1937.20,539.43 1945.57,553.94 1928.83,553.94"/><polygon points="1908.00,488.33 1916.37,502.83 1899.63,502.83"/><polygon points="1915.00,495.33 1923.37,509.83 1906.63,509.83"/><polygon points="1935.00,480.33 1943.37,494.83 1926.63,494.83"/><polygon points="1945.00,490.33 1953.37,504.83 1936.63,504.83"/><polygon points="1938.00,500.33 1946.37,514.84 1929.63,514.84"/><polygon points="1905.00,505.33 1913.37,519.84 1896.63,519.84"/><polygon points="1950.00,525.33 1958.37,539.84 1941.63,539.84"/><polygon points="1945.00,540.33 1953.37,554.84 1936.63,554.84"/></g><rect x="1098.55" y="198.3" width="5.5" height="107.90" fill="#000000"/><rect x="1092.05" y="240.9" width="18.5" height="25.40" fill="#000000"/><circle cx="1101.3" cy="251.0" r="5.8" fill="#fff" stroke="#5a5a5a" stroke-width="0.9"/><circle cx="1101.3" cy="251.0" r="2" fill="#000"/><rect x="1195.75" y="218.9" width="5.5" height="44.10" fill="#000000"/><rect x="1189.25" y="236.3" width="18.5" height="11.10" fill="#000000"/><circle cx="1198.5" cy="240.2" r="5.8" fill="#fff" stroke="#5a5a5a" stroke-width="0.9"/><circle cx="1198.5" cy="240.2" r="2" fill="#000"/><rect x="1341.35" y="204.7" width="5.5" height="82.10" fill="#990000"/><rect x="1334.85" y="223.5" width="18.5" height="22.30" fill="#990000"/><circle cx="1344.1" cy="235.0" r="5.8" fill="#fff" stroke="#5a5a5a" stroke-width="0.9"/><circle cx="1344.1" cy="235.0" r="2" fill="#000"/><rect x="1438.15" y="58.1" width="5.5" height="187.60" fill="#990000"/><rect x="1431.65" y="126.1" width="18.5" height="81.30" fill="#990000"/><circle cx="1440.9" cy="158.0" r="5.8" fill="#fff" stroke="#5a5a5a" stroke-width="0.9"/><circle cx="1440.9" cy="158.0" r="2" fill="#000"/><rect x="1583.75" y="208.1" width="5.5" height="58.70" fill="#ff0000"/><rect x="1577.25" y="221.2" width="18.5" height="20.20" fill="#ff0000"/><circle cx="1586.5" cy="229.9" r="5.8" fill="#fff" stroke="#5a5a5a" stroke-width="0.9"/><circle cx="1586.5" cy="229.9" r="2" fill="#000"/><rect x="1680.95" y="202.6" width="5.5" height="87.90" fill="#ff0000"/><rect x="1674.45" y="246.1" width="18.5" height="23.50" fill="#ff0000"/><circle cx="1683.7" cy="256.2" r="5.8" fill="#fff" stroke="#5a5a5a" stroke-width="0.9"/><circle cx="1683.7" cy="256.2" r="2" fill="#000"/><rect x="1826.25" y="232.3" width="5.5" height="68.30" fill="#ff8000"/><rect x="1819.75" y="253.1" width="18.5" height="23.90" fill="#ff8000"/><circle cx="1829.0" cy="261.4" r="5.8" fill="#fff" stroke="#5a5a5a" stroke-width="0.9"/><circle cx="1829.0" cy="261.4" r="2" fill="#000"/><rect x="1923.45" y="157.3" width="5.5" height="115.20" fill="#ff8000"/><rect x="1916.95" y="226.8" width="18.5" height="32.90" fill="#ff8000"/><circle cx="1926.2" cy="235.4" r="5.8" fill="#fff" stroke="#5a5a5a" stroke-width="0.9"/><circle cx="1926.2" cy="235.4" r="2" fill="#000"/><rect x="1098.45" y="460.4" width="5.5" height="128.10" fill="#000000"/><rect x="1091.95" y="489.9" width="18.5" height="42.90" fill="#000000"/><circle cx="1101.2" cy="509.6" r="5.8" fill="#fff" stroke="#5a5a5a" stroke-width="0.9"/><circle cx="1101.2" cy="509.6" r="2" fill="#000"/><rect x="1195.75" y="499.2" width="5.5" height="101.30" fill="#000000"/><rect x="1189.25" y="538.0" width="18.5" height="35.20" fill="#000000"/><circle cx="1198.5" cy="551.2" r="5.8" fill="#fff" stroke="#5a5a5a" stroke-width="0.9"/><circle cx="1198.5" cy="551.2" r="2" fill="#000"/><rect x="1341.45" y="419.8" width="5.5" height="156.50" fill="#990000"/><rect x="1334.95" y="473.0" width="18.5" height="44.90" fill="#990000"/><circle cx="1344.2" cy="490.1" r="5.8" fill="#fff" stroke="#5a5a5a" stroke-width="0.9"/><circle cx="1344.2" cy="490.1" r="2" fill="#000"/><rect x="1438.25" y="529.9" width="5.5" height="75.80" fill="#990000"/><rect x="1431.75" y="546.7" width="18.5" height="29.50" fill="#990000"/><circle cx="1441.0" cy="572.7" r="5.8" fill="#fff" stroke="#5a5a5a" stroke-width="0.9"/><circle cx="1441.0" cy="572.7" r="2" fill="#000"/><rect x="1584.05" y="453.9" width="5.5" height="178.60" fill="#ff0000"/><rect x="1577.55" y="497.0" width="18.5" height="70.80" fill="#ff0000"/><circle cx="1586.8" cy="530.8" r="5.8" fill="#fff" stroke="#5a5a5a" stroke-width="0.9"/><circle cx="1586.8" cy="530.8" r="2" fill="#000"/><rect x="1681.05" y="533.1" width="5.5" height="47.80" fill="#ff0000"/><rect x="1674.55" y="549.3" width="18.5" height="10.90" fill="#ff0000"/><circle cx="1683.8" cy="557.8" r="5.8" fill="#fff" stroke="#5a5a5a" stroke-width="0.9"/><circle cx="1683.8" cy="557.8" r="2" fill="#000"/><rect x="1826.25" y="393.4" width="5.5" height="190.70" fill="#ff8000"/><rect x="1819.75" y="424.6" width="18.5" height="73.40" fill="#ff8000"/><circle cx="1829.0" cy="447.0" r="5.8" fill="#fff" stroke="#5a5a5a" stroke-width="0.9"/><circle cx="1829.0" cy="447.0" r="2" fill="#000"/><rect x="1923.45" y="443.9" width="5.5" height="112.80" fill="#ff8000"/><rect x="1916.95" y="494.6" width="18.5" height="35.40" fill="#ff8000"/><circle cx="1926.2" cy="512.0" r="5.8" fill="#fff" stroke="#5a5a5a" stroke-width="0.9"/><circle cx="1926.2" cy="512.0" r="2" fill="#000"/></svg></body></html>
